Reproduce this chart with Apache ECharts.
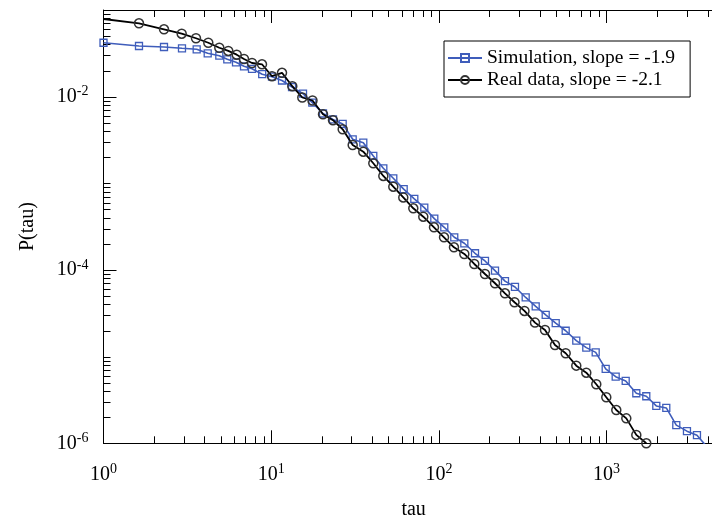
<!DOCTYPE html>
<html><head><meta charset="utf-8">
<script src="https://cdn.jsdelivr.net/npm/echarts@6/dist/echarts.min.js"></script>
<style>html,body{margin:0;padding:0;background:#fff}#c{width:712px;height:518px}</style>
</head><body><div id="c"></div>
<script>
// ---- data ----
const simName = 'Simulation, slope = -1.9';
const realName = 'Real data, slope = -2.1';

const simTau = [1, 1.628, 2.295, 2.938, 3.595, 4.182, 4.904, 5.473, 6.168, 6.884, 7.684, 8.838, 10.11, 11.60, 13.31, 15.48, 17.59, 20.37, 23.36, 26.69, 30.62, 35.42, 40.63, 46.63, 53.47, 61.67, 71.35, 81.84, 93.9, 107.7, 123.5, 141.8, 164.2, 188.3, 216.1, 247.8, 284.3, 329.3, 377.8, 433.4, 497.3, 570.3, 659.6, 756.8, 861, 987.7, 1133, 1300, 1504, 1725, 1979, 2270, 2604, 3015, 3459, 3969];
const simP = [0.0419, 0.03843, 0.03741, 0.03614, 0.03520, 0.03165, 0.02970, 0.02699, 0.02492, 0.02241, 0.02097, 0.01817, 0.01700, 0.01537, 0.01293, 0.01082, 0.00852, 0.00639, 0.00546, 0.00484, 0.00322, 0.002943, 0.002068, 0.001491, 0.001143, 0.000856, 0.000663, 0.000524, 0.000391, 0.000311, 0.0002384, 0.0002033, 0.0001559, 0.0001271, 0.0000982, 0.0000743, 0.0000637, 0.0000482, 0.0000380, 0.0000303, 0.0000243, 0.0000199, 0.0000153, 0.0000127, 0.0000112, 7.21e-6, 5.87e-6, 5.24e-6, 3.78e-6, 3.49e-6, 2.70e-6, 2.56e-6, 1.62e-6, 1.38e-6, 1.24e-6, 9.1e-7];

const realTau = [1, 1.628, 2.295, 2.926, 3.561, 4.216, 4.904, 5.549, 6.228, 6.884, 7.684, 8.814, 10.11, 11.60, 13.36, 15.33, 17.63, 20.37, 23.36, 26.69, 30.62, 35.42, 40.63, 46.63, 53.47, 61.33, 70.37, 80.72, 93.5, 107.3, 123.0, 141.8, 162.6, 188.3, 216.1, 247.8, 282.4, 323.9, 374.1, 429.2, 492.5, 570.3, 659.6, 756.8, 868.1, 995.9, 1142.5, 1311, 1504, 1725];
const realP = [0.0787, 0.0702, 0.0599, 0.0533, 0.0472, 0.0419, 0.0367, 0.0337, 0.0305, 0.0272, 0.02446, 0.02363, 0.01722, 0.01886, 0.01320, 0.00978, 0.00903, 0.00627, 0.00535, 0.00420, 0.002769, 0.002317, 0.001703, 0.001216, 0.000914, 0.000687, 0.000515, 0.000412, 0.000311, 0.0002384, 0.0001828, 0.0001530, 0.0001173, 0.0000899, 0.0000703, 0.0000538, 0.0000424, 0.0000337, 0.0000247, 0.0000203, 0.0000136, 0.00001094, 7.87e-6, 6.53e-6, 4.80e-6, 3.40e-6, 2.42e-6, 1.94e-6, 1.25e-6, 1.0e-6];

const xTitle = 'tau';
const yTitle = 'P(tau)';
const xMin = 1, xMax = 5000;
const yMin = 1e-6, yMax = 1e-1;
const yLabelExps = [-6, -4, -2];   // labelled decades on the y axis

// ---- axis minor ticks (values only; drawn through the axes' scales) ----
const tickData = [];
for (let k = 0; k <= 3; k++) for (let m = 2; m <= 9; m++) {
  const v = m * Math.pow(10, k); if (v < xMax) tickData.push([v, 1e-3, 0, 7]);
}
for (let k = -6; k <= -2; k++) for (let m = 1; m <= 9; m++) {
  const v = m * Math.pow(10, k);
  const major = (m === 1 && yLabelExps.indexOf(k) >= 0);
  if (m === 1 && k === -6) continue;
  tickData.push([10, v, 1, major ? 13 : 7]);
}

const serif = 'Liberation Serif, Times New Roman, serif';
const BLUE = '#3f5dbb';

function powLabel(v) {
  const e = Math.round(Math.log10(v));
  if (Math.abs(Math.log10(v) - e) > 1e-6) return '';
  return '{b|10}{s|' + e + '}';
}
const rich = {
  b: { fontFamily: serif, fontSize: 20, color: '#000', lineHeight: 24 },
  s: { fontFamily: serif, fontSize: 14, color: '#000', verticalAlign: 'top', lineHeight: 14 }
};

const chart = echarts.init(document.getElementById('c'), null, { renderer: 'canvas' });
chart.setOption({
  backgroundColor: '#fff',
  animation: false,
  grid: { left: 103.5, top: 10, width: 620.3, height: 433.3, containLabel: false, outerBoundsMode: 'none' },
  legend: {
    orient: 'vertical', left: 444, top: 41,
    padding: [7, 15, 7, 3], itemGap: 2, itemWidth: 34, itemHeight: 10,
    borderColor: '#000', borderWidth: 1, backgroundColor: '#fff',
    textStyle: { fontFamily: serif, fontSize: 19.5, color: '#000', lineHeight: 20 },
    data: [simName, realName]
  },
  xAxis: [{
    type: 'log', logBase: 10, min: xMin, max: xMax, position: 'bottom',
    name: xTitle, nameLocation: 'middle', nameGap: 56,
    nameTextStyle: { fontFamily: serif, fontSize: 20, color: '#000' },
    axisLine: { show: true, lineStyle: { color: '#000', width: 1 } },
    axisTick: { show: true, inside: true, length: 13, lineStyle: { color: '#000' } },
    axisLabel: { formatter: powLabel, rich: rich, margin: 19, showMaxLabel: false },
    splitLine: { show: false }, minorTick: { show: false }
  }, {
    type: 'log', logBase: 10, min: xMin, max: xMax, position: 'top',
    axisLine: { show: true, lineStyle: { color: '#000', width: 1 } },
    axisTick: { show: true, inside: true, length: 13, lineStyle: { color: '#000' } },
    axisLabel: { show: false }, splitLine: { show: false }
  }],
  yAxis: [{
    type: 'log', logBase: 10, min: yMin, max: yMax,
    name: yTitle, nameLocation: 'middle', nameGap: 66, nameRotate: 90,
    nameTextStyle: { fontFamily: serif, fontSize: 20, color: '#000' },
    axisLine: { show: true, lineStyle: { color: '#000', width: 1 } },
    axisTick: { show: false },
    axisLabel: {
      formatter: function (v) {
        const e = Math.round(Math.log10(v));
        if (yLabelExps.indexOf(e) < 0) return '';
        return powLabel(v);
      }, rich: rich, margin: 15
    },
    splitLine: { show: false }
  }],
  series: [{
    type: 'custom', silent: true, xAxisIndex: 0, yAxisIndex: 0, z: 1,
    data: tickData, encode: { x: 0, y: 1 },
    renderItem: function (params, api) {
      const cs = params.coordSys;
      const len = api.value(3);
      if (api.value(2) === 0) {
        const px = Math.round(api.coord([api.value(0), 1e-3])[0]) + 0.5;
        const yb = cs.y + cs.height, yt = cs.y;
        return { type: 'group', children: [
          { type: 'line', shape: { x1: px, y1: yb, x2: px, y2: yb - len }, style: { stroke: '#000', lineWidth: 1 } },
          { type: 'line', shape: { x1: px, y1: yt, x2: px, y2: yt + len }, style: { stroke: '#000', lineWidth: 1 } }
        ]};
      }
      const py = Math.round(api.coord([10, api.value(1)])[1]) + 0.5;
      return { type: 'line', shape: { x1: cs.x, y1: py, x2: cs.x + len, y2: py }, style: { stroke: '#000', lineWidth: 1 } };
    }
  }, {
    name: simName, type: 'line', clip: true, z: 3,
    data: simTau.map((t, i) => [t, simP[i]]),
    symbol: 'rect', symbolSize: 7,
    lineStyle: { color: BLUE, width: 1.6 },
    itemStyle: { color: 'rgba(255,255,255,0)', borderColor: BLUE, borderWidth: 1.3 }
  }, {
    name: realName, type: 'line', clip: true, z: 4,
    data: realTau.map((t, i) => i === 0 ? { value: [t, realP[i]], symbol: 'none' } : [t, realP[i]]),
    symbol: 'circle', symbolSize: 9,
    lineStyle: { color: '#000', width: 1.8 },
    itemStyle: { color: 'rgba(255,255,255,0)', borderColor: '#333', borderWidth: 1.5 }
  }]
});
</script></body></html>
